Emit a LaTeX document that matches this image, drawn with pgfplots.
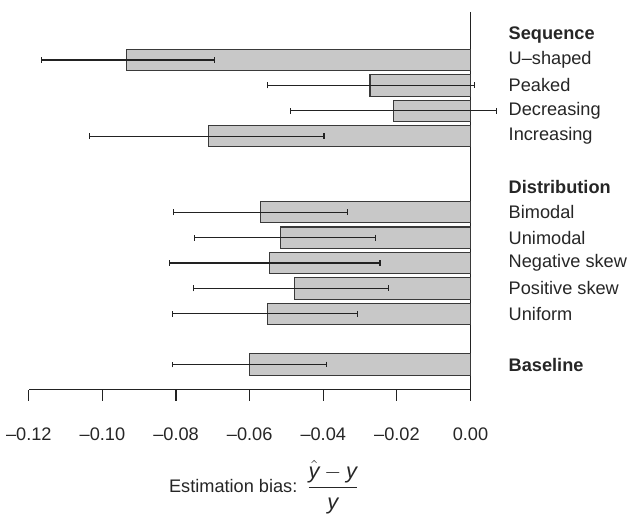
\documentclass[border=0pt]{standalone}
\usepackage{fontspec}
\setmainfont{Liberation Sans}
\usepackage{amsmath}
\usepackage{pgfplots}
\pgfplotsset{compat=1.18}
\definecolor{barfill}{HTML}{C8C8C8}
\definecolor{baredge}{HTML}{3A3A3A}
\definecolor{axisline}{HTML}{222222}

% row position, bar end, error to the right, error to the left
\pgfplotstableread{
y  x       ep      em
0  -0.0934 0.0238  0.0231
1  -0.0273 0.0285  0.0278
2  -0.0208 0.0279  0.0282
3  -0.0712 0.0314  0.0322
6  -0.0571 0.0238  0.0235
7  -0.0515 0.0258  0.0234
8  -0.0546 0.0300  0.0272
9  -0.0478 0.0256  0.0275
10 -0.0551 0.0245  0.0258
12 -0.0601 0.0211  0.0208
}\biasdata

\begin{document}
\begin{tikzpicture}
\begin{axis}[
  scale only axis, width=243pt, height=208pt,
  xmin=-0.12, xmax=0, ymin=-1.9, ymax=13, y dir=reverse,
  axis x line=bottom, axis y line=right,
  axis line style={-, axisline, line width=0.6pt},
  clip=false,
  xtick={-0.12,-0.10,-0.08,-0.06,-0.04,-0.02,0},
  xticklabels={--0.12,--0.10,--0.08,--0.06,--0.04,--0.02,0.00},
  x tick style={axisline, line width=0.6pt},
  tick align=outside, major tick length=6pt,
  xticklabel style={yshift=-11.5pt, text=black!85},
  ytick={-1,0,1,2,3,5,6,7,8,9,10,12},
  yticklabels={\textbf{Sequence},U--shaped,Peaked,Decreasing,Increasing,
    \textbf{Distribution},Bimodal,Unimodal,Negative skew,Positive skew,Uniform,
    \textbf{Baseline}},
  y tick style={draw=none},
  yticklabel style={anchor=west, xshift=11.5pt, text=black!85},
  xlabel={Estimation bias:\enspace{\large$\dfrac{\hat{\textit{y}}-\textit{y}}{\rule{0pt}{1.7ex}\textit{y}}$}},
  xlabel style={yshift=-4pt, xshift=8pt, text=black!85},
]
\addplot[xbar, bar width=0.84, fill=barfill, draw=baredge, line width=0.6pt,
  error bars/.cd, x dir=both, x explicit, error mark=|,
  error bar style={line width=0.6pt, axisline},
  error mark options={mark size=1.6pt, line width=0.6pt, axisline}]
  table[x=x, y=y, x error plus=ep, x error minus=em] {\biasdata};
\end{axis}
\path ([yshift=6.5pt]current axis.north);
\end{tikzpicture}
\end{document}
